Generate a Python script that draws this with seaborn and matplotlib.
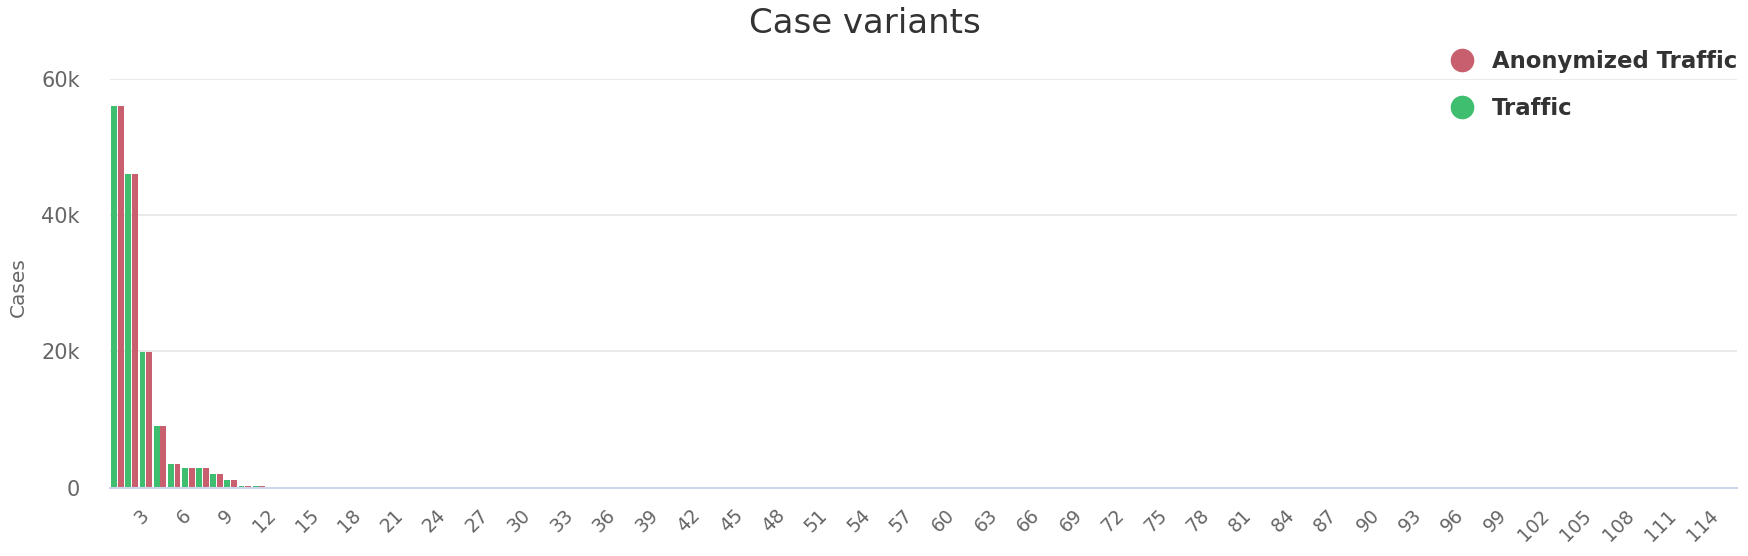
import pandas as pd
import matplotlib
matplotlib.use('Agg')
import matplotlib.pyplot as plt
from matplotlib.lines import Line2D
from matplotlib.ticker import FuncFormatter
import seaborn as sns

# Data (cases per variant, variants 1..115)
variants = [str(i) for i in range(1, 116)]
traffic_head = [56000, 46100, 19900, 9100, 3500, 2900, 2900, 2000, 1100, 250, 250]
anonymized_head = [56000, 46100, 19900, 9100, 3500, 2900, 2900, 2000, 1100, 250, 250]
tail = [0] * (len(variants) - len(traffic_head))
traffic = traffic_head + tail
anonymized = anonymized_head + tail

series_names = ['Traffic', 'Anonymized Traffic']
colors = {'Traffic': '#3ebe6e', 'Anonymized Traffic': '#c85f6e'}

df = pd.DataFrame({
    'variant': variants * 2,
    'cases': traffic + anonymized,
    'series': ['Traffic'] * len(variants) + ['Anonymized Traffic'] * len(variants),
})

sns.set_style('white')
plt.rcParams['font.family'] = ['DejaVu Sans']

fig = plt.figure(figsize=(17.48, 5.56), dpi=100)
ax = fig.add_axes([0.0632, 0.1228, 0.9305, 0.7352])

sns.barplot(data=df, x='variant', y='cases', hue='series', order=variants,
            hue_order=series_names, palette=colors, width=0.95, gap=0.12,
            saturation=1, linewidth=0, legend=False, ax=ax)

ax.set_ylim(0, 60000)
ax.set_yticks([0, 20000, 40000, 60000])
ax.yaxis.set_major_formatter(FuncFormatter(lambda v, p: '0' if v == 0 else f'{int(v / 1000)}k'))
ax.grid(axis='y', color='#e6e6e6', linewidth=1.2)
ax.set_axisbelow(True)

tick_pos = list(range(2, 114, 3))
ax.set_xticks(tick_pos)
ax.set_xticklabels([variants[i] for i in tick_pos], rotation=45, ha='right', va='center',
                   rotation_mode='anchor', color='#666666', fontsize=13.5)
ax.tick_params(axis='x', length=0, pad=18)
ax.tick_params(axis='y', length=0, pad=22, labelsize=15, labelcolor='#666666')

for side in ['top', 'right', 'left']:
    ax.spines[side].set_visible(False)
ax.spines['bottom'].set_color('#ccd6eb')
ax.spines['bottom'].set_linewidth(1.5)

ax.set_xlabel('')
ax.set_ylabel('Cases', fontsize=14.5, color='#666666')
ax.yaxis.set_label_coords(-0.0505, 0.49)

fig.text(0.495, 0.958, 'Case variants', fontsize=24.5, color='#333333',
         ha='center', va='center')

handles = [Line2D([], [], marker='o', linestyle='', markersize=16,
                  color=colors['Anonymized Traffic']),
           Line2D([], [], marker='o', linestyle='', markersize=16,
                  color=colors['Traffic'])]
leg = fig.legend(handles, ['Anonymized Traffic', 'Traffic'], loc='upper right',
                 bbox_to_anchor=(1.0055, 0.947), frameon=False, handletextpad=0.7,
                 labelspacing=1.05, handlelength=1.2,
                 prop={'size': 16.4, 'weight': 'bold'})
for t in leg.get_texts():
    t.set_color('#333333')

plt.savefig('out.png', dpi=100)
